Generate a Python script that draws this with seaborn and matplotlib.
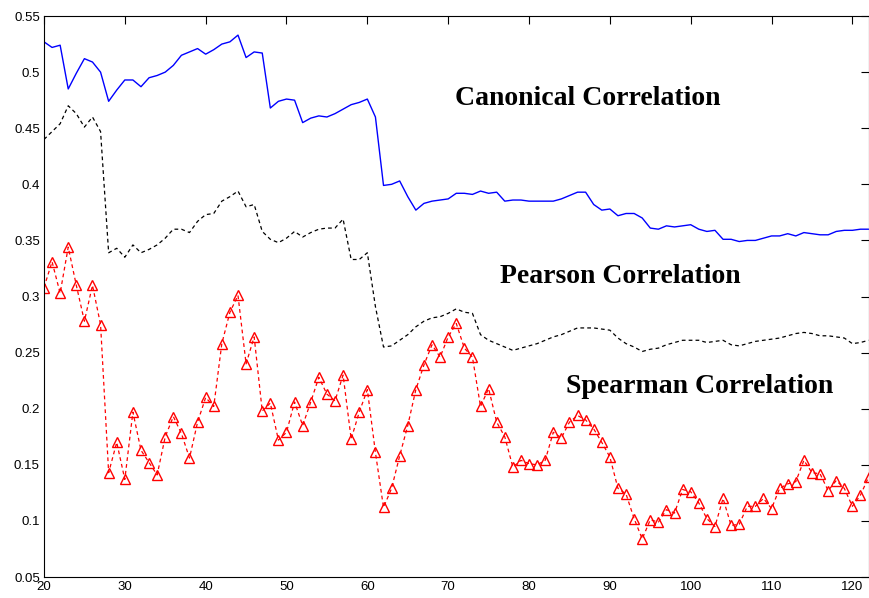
import numpy as np
import pandas as pd
import matplotlib
matplotlib.use("Agg")
import matplotlib.pyplot as plt
import seaborn as sns

# Window size (x axis)
window = list(range(20, 123))

canonical = [
    0.527, 0.522, 0.524, 0.485, 0.499, 0.512, 0.509, 0.500, 0.474, 0.484,
    0.493, 0.493, 0.487, 0.495, 0.497, 0.500, 0.506, 0.515, 0.518, 0.521,
    0.516, 0.520, 0.525, 0.527, 0.533, 0.513, 0.518, 0.517, 0.468, 0.474,
    0.476, 0.475, 0.455, 0.459, 0.461, 0.460, 0.463, 0.467, 0.471, 0.473,
    0.476, 0.460, 0.399, 0.400, 0.403, 0.389, 0.377, 0.383, 0.385, 0.386,
    0.387, 0.392, 0.392, 0.391, 0.394, 0.392, 0.393, 0.385, 0.386, 0.386,
    0.385, 0.385, 0.385, 0.385, 0.387, 0.390, 0.393, 0.393, 0.382, 0.377,
    0.378, 0.372, 0.374, 0.374, 0.370, 0.361, 0.360, 0.363, 0.362, 0.363,
    0.364, 0.360, 0.358, 0.359, 0.351, 0.351, 0.349, 0.350, 0.350, 0.352,
    0.354, 0.354, 0.356, 0.354, 0.357, 0.356, 0.355, 0.355, 0.358, 0.359,
    0.359, 0.360, 0.360,
]

pearson = [
    0.440, 0.447, 0.454, 0.470, 0.463, 0.451, 0.460, 0.447, 0.339, 0.343,
    0.335, 0.346, 0.339, 0.342, 0.346, 0.352, 0.360, 0.360, 0.357, 0.367,
    0.373, 0.374, 0.385, 0.389, 0.394, 0.380, 0.382, 0.358, 0.351, 0.348,
    0.352, 0.358, 0.353, 0.357, 0.360, 0.361, 0.361, 0.369, 0.333, 0.333,
    0.339, 0.291, 0.255, 0.256, 0.261, 0.266, 0.273, 0.278, 0.281, 0.282,
    0.285, 0.289, 0.286, 0.285, 0.266, 0.261, 0.258, 0.255, 0.252, 0.254,
    0.256, 0.258, 0.261, 0.264, 0.266, 0.269, 0.272, 0.272, 0.272, 0.271,
    0.270, 0.263, 0.258, 0.255, 0.251, 0.253, 0.254, 0.257, 0.259, 0.261,
    0.261, 0.261, 0.259, 0.260, 0.261, 0.257, 0.256, 0.258, 0.260, 0.261,
    0.262, 0.263, 0.265, 0.267, 0.268, 0.267, 0.265, 0.265, 0.264, 0.263,
    0.258, 0.259, 0.261,
]

spearman = [
    0.308, 0.331, 0.303, 0.344, 0.310, 0.278, 0.310, 0.275, 0.143, 0.170,
    0.137, 0.197, 0.163, 0.152, 0.141, 0.175, 0.193, 0.178, 0.156, 0.188,
    0.210, 0.202, 0.258, 0.286, 0.301, 0.240, 0.264, 0.198, 0.205, 0.172,
    0.179, 0.206, 0.185, 0.206, 0.228, 0.213, 0.207, 0.230, 0.173, 0.197,
    0.217, 0.161, 0.112, 0.129, 0.158, 0.185, 0.217, 0.239, 0.257, 0.246,
    0.264, 0.276, 0.254, 0.246, 0.202, 0.218, 0.188, 0.175, 0.148, 0.154,
    0.151, 0.150, 0.154, 0.179, 0.174, 0.188, 0.194, 0.190, 0.182, 0.170,
    0.157, 0.129, 0.124, 0.102, 0.084, 0.101, 0.099, 0.110, 0.107, 0.128,
    0.126, 0.116, 0.102, 0.095, 0.120, 0.096, 0.097, 0.113, 0.113, 0.120,
    0.111, 0.129, 0.133, 0.135, 0.154, 0.143, 0.142, 0.127, 0.136, 0.129,
    0.113, 0.123, 0.139,
]

x_ticks = [20, 30, 40, 50, 60, 70, 80, 90, 100, 110, 120]
y_ticks = [0.05, 0.1, 0.15, 0.2, 0.25, 0.3, 0.35, 0.4, 0.45, 0.5, 0.55]
y_tick_labels = ["0.05", "0.1", "0.15", "0.2", "0.25", "0.3",
                 "0.35", "0.4", "0.45", "0.5", "0.55"]

df = pd.DataFrame({"window": window, "canonical": canonical,
                   "pearson": pearson, "spearman": spearman})

sns.set_style("white")
plt.rcParams["font.family"] = ["Liberation Sans", "DejaVu Sans"]

fig = plt.figure(figsize=(8.69, 5.98), dpi=100)
ax = fig.add_axes([0.0506, 0.0351, 0.9489, 0.9381])

sns.lineplot(data=df, x="window", y="canonical", ax=ax, color="#0000ff",
             lw=1.0, estimator=None, legend=False)
sns.lineplot(data=df, x="window", y="pearson", ax=ax, color="black",
             lw=0.9, linestyle=(0, (3, 2.5)), estimator=None, legend=False)
sns.lineplot(data=df, x="window", y="spearman", ax=ax, color="#ff0000",
             lw=0.9, linestyle=(0, (3, 2.5)), marker="^", markersize=7.5,
             markerfacecolor="none", markeredgecolor="#ff0000",
             markeredgewidth=1.0, estimator=None, legend=False)

ax.set_xlim(20, 122)
ax.set_ylim(0.05, 0.55)
ax.set_xticks(x_ticks)
ax.set_xticklabels([str(t) for t in x_ticks])
ax.set_yticks(y_ticks)
ax.set_yticklabels(y_tick_labels)
ax.set_xlabel("")
ax.set_ylabel("")
ax.tick_params(direction="in", length=5.5, width=0.8, top=True, right=True,
               labelsize=9.5, pad=3, colors="black")
for s in ax.spines.values():
    s.set_visible(True)
    s.set_color("black")
    s.set_linewidth(0.8)

label_font = dict(family="Liberation Serif", fontweight="semibold",
                  fontsize=20, ha="center", va="baseline", color="black")
ax.text(87.3, 0.4707, "Canonical Correlation", **label_font)
ax.text(91.3, 0.312, "Pearson Correlation", **label_font)
ax.text(101.1, 0.214, "Spearman Correlation", **label_font)

fig.savefig("out.png", dpi=100, facecolor="white")
